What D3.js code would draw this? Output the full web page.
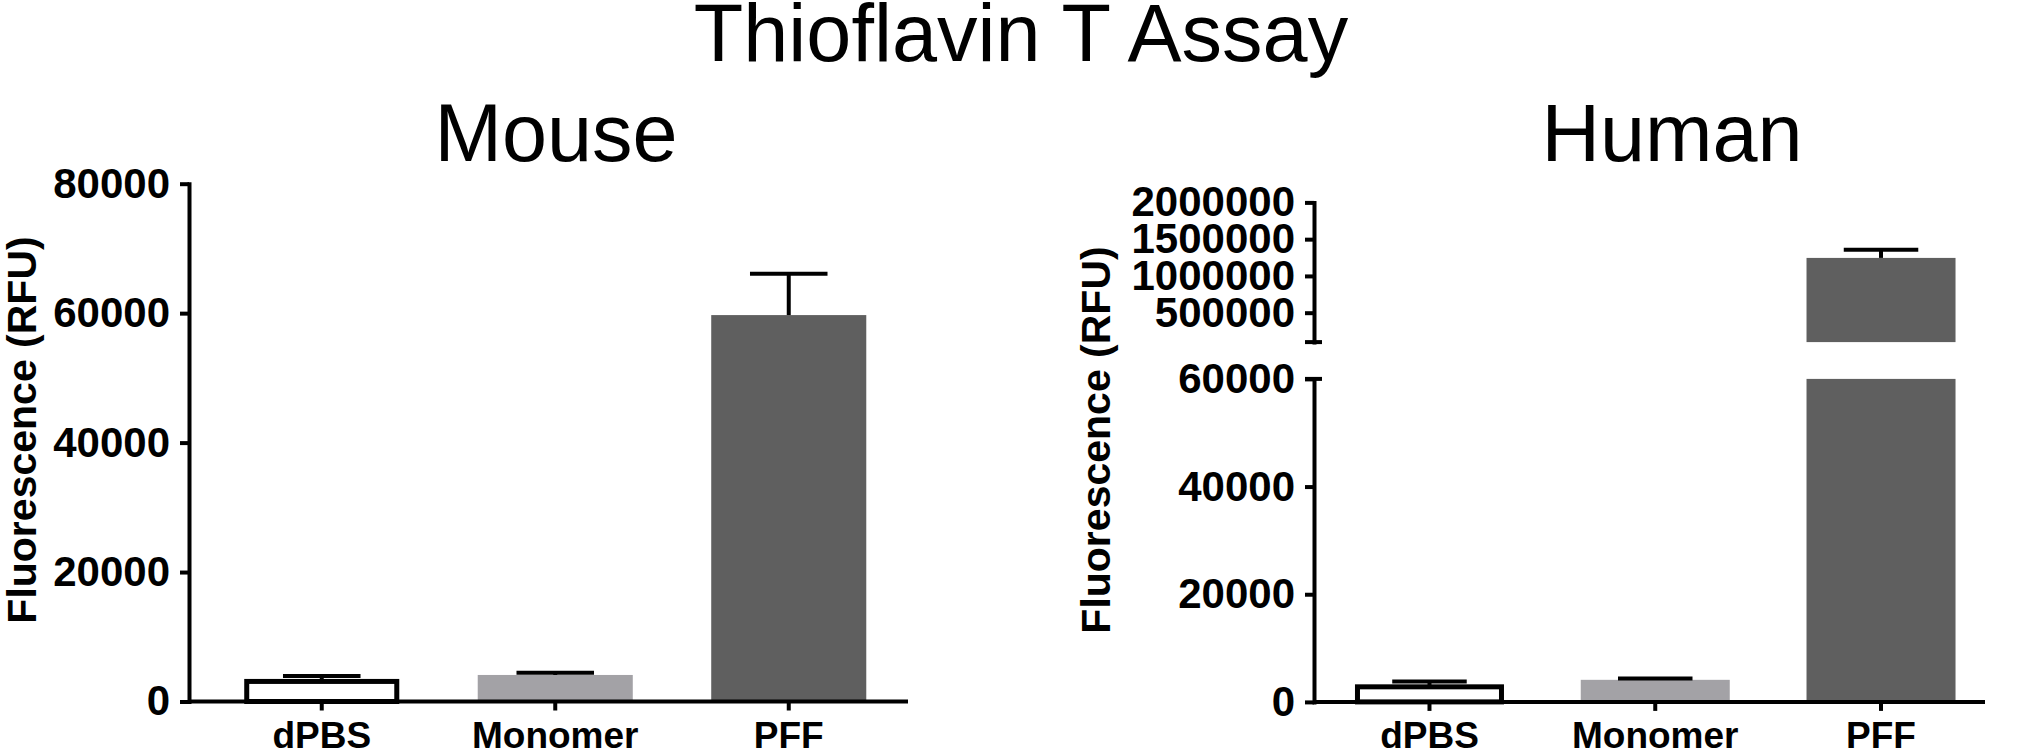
<!DOCTYPE html>
<html>
<head>
<meta charset="utf-8">
<script src="https://cdn.jsdelivr.net/npm/d3@7"></script>
<style>
body { margin:0; background:#fff; }
svg text { font-family: "Liberation Sans", Arial, sans-serif; fill:#000; }
</style>
</head>
<body>
<svg id="chart"></svg>
<script>
// values
var categories = ["dPBS", "Monomer", "PFF"];
var mouseMeans = [3100, 4100, 59700];
var mouseErrors = [850, 350, 6400];
var humanMeans = [2800, 4100, 1245000];
var humanErrors = [1000, 250, 110000];
var mouseTicks = [0, 20000, 40000, 60000, 80000];
var humanLowTicks = [0, 20000, 40000, 60000];
var humanHighTicks = [500000, 1000000, 1500000, 2000000];

var screen = {width: 2034, height: 750};

var fills = d3.scaleOrdinal()
    .domain(categories)
    .range(["#ffffff", "#a3a2a6", "#5f5f5f"]);

var svg = d3.select("#chart")
    .attr("width", screen.width)
    .attr("height", screen.height);

var drawPanel = function(panel)
{
    var data = categories.map(function(c, i)
    {
        return {cat: c, mean: panel.means[i], err: panel.errors[i]};
    });

    var xScale = d3.scaleBand()
        .domain(categories)
        .range(panel.xRange)
        .paddingInner(panel.padding)
        .paddingOuter(panel.padding / 2);

    var target = svg.append("g");
    var y0 = panel.segments[0].range[0];

    panel.segments.forEach(function(seg)
    {
        var yScale = d3.scaleLinear().domain(seg.domain).range(seg.range);
        var lo = seg.domain[0], hi = seg.domain[1];

        var yAxis = d3.axisLeft(yScale)
            .tickValues(seg.ticks)
            .tickFormat(d3.format("d"))
            .tickSize(9)
            .tickSizeOuter(0)
            .tickPadding(10);

        var ax = target.append("g")
            .attr("transform", "translate(" + panel.axisX + ",0)")
            .call(yAxis);
        ax.selectAll("line,path").attr("stroke", "#000").attr("stroke-width", 4);
        ax.select(".domain").attr("stroke-linecap", "square");
        ax.selectAll("text")
            .attr("font-size", 42)
            .attr("font-weight", "bold")
            .attr("font-family", "'Liberation Sans', Arial, sans-serif");

        // short caps where the axis is broken
        if (seg.capTop)
        {
            target.append("line")
                .attr("x1", panel.axisX - 9).attr("x2", panel.axisX + 8)
                .attr("y1", yScale(hi)).attr("y2", yScale(hi))
                .attr("stroke", "#000").attr("stroke-width", 4);
        }
        if (seg.capBottom)
        {
            target.append("line")
                .attr("x1", panel.axisX - 9).attr("x2", panel.axisX + 8)
                .attr("y1", yScale(lo)).attr("y2", yScale(lo))
                .attr("stroke", "#000").attr("stroke-width", 4);
        }

        var shown = data.filter(function(d) { return d.mean > lo; });
        var bars = target.append("g");

        bars.selectAll("rect")
            .data(shown)
            .enter()
            .append("rect")
            .attr("x", function(d)
            {
                return xScale(d.cat) + (d.cat == "dPBS" ? 2.5 : 0);
            })
            .attr("width", function(d)
            {
                return xScale.bandwidth() - (d.cat == "dPBS" ? 5 : 0);
            })
            .attr("y", function(d) { return yScale(Math.min(d.mean, hi)); })
            .attr("height", function(d)
            {
                return yScale(lo) - yScale(Math.min(d.mean, hi));
            })
            .attr("fill", function(d) { return fills(d.cat); })
            .attr("stroke", function(d) { return d.cat == "dPBS" ? "#000" : "none"; })
            .attr("stroke-width", 5);

        var errs = data.filter(function(d)
        {
            return d.mean >= lo && d.mean + d.err <= hi;
        });

        var eg = target.append("g")
            .attr("stroke", "#000")
            .attr("stroke-width", 4);

        eg.selectAll(".stem")
            .data(errs)
            .enter()
            .append("line")
            .attr("x1", function(d) { return xScale(d.cat) + xScale.bandwidth() / 2; })
            .attr("x2", function(d) { return xScale(d.cat) + xScale.bandwidth() / 2; })
            .attr("y1", function(d) { return yScale(d.mean); })
            .attr("y2", function(d) { return yScale(d.mean + d.err); });

        eg.selectAll(".cap")
            .data(errs)
            .enter()
            .append("line")
            .attr("x1", function(d) { return xScale(d.cat) + xScale.bandwidth() / 4; })
            .attr("x2", function(d) { return xScale(d.cat) + xScale.bandwidth() * 3 / 4; })
            .attr("y1", function(d) { return yScale(d.mean + d.err); })
            .attr("y2", function(d) { return yScale(d.mean + d.err); });
    });

    // x axis
    var xAxis = d3.axisBottom(xScale)
        .tickSize(9)
        .tickSizeOuter(0)
        .tickPadding(11);

    var xa = target.append("g")
        .attr("transform", "translate(0," + y0 + ")")
        .call(xAxis);
    xa.select(".domain").remove();
    xa.selectAll("line").attr("stroke", "#000").attr("stroke-width", 4);
    xa.selectAll("text")
        .attr("font-size", 37)
        .attr("font-weight", "bold")
        .attr("font-family", "'Liberation Sans', Arial, sans-serif");

    target.append("line")
        .attr("x1", panel.axisX)
        .attr("x2", panel.axisEnd)
        .attr("y1", y0)
        .attr("y2", y0)
        .attr("stroke", "#000")
        .attr("stroke-width", 4);

    // labels
    target.append("text")
        .text(panel.title)
        .attr("text-anchor", "middle")
        .attr("x", panel.titleX)
        .attr("y", 161)
        .attr("font-size", 81);

    target.append("g")
        .attr("transform", "translate(" + panel.labelX + "," + panel.labelY + ")")
        .append("text")
        .text("Fluorescence (RFU)")
        .attr("text-anchor", "middle")
        .attr("font-size", 41)
        .attr("font-weight", "bold")
        .attr("transform", "rotate(270)");
}

svg.append("text")
    .text("Thioflavin T Assay")
    .attr("text-anchor", "middle")
    .attr("x", 1021)
    .attr("y", 61)
    .attr("font-size", 81);

drawPanel({
    title: "Mouse", titleX: 556,
    labelX: 36, labelY: 430,
    means: mouseMeans, errors: mouseErrors,
    axisX: 189, axisEnd: 908,
    xRange: [205, 905.5], padding: 0.336,
    segments: [
        {domain: [0, 80000], range: [701.5, 183.7], ticks: mouseTicks}
    ]
});

drawPanel({
    title: "Human", titleX: 1672,
    labelX: 1110, labelY: 440,
    means: humanMeans, errors: humanErrors,
    axisX: 1314, axisEnd: 1985,
    xRange: [1316.6, 1993.9], padding: 0.34,
    segments: [
        {domain: [0, 60000], range: [701.9, 378.9], ticks: humanLowTicks, capTop: true},
        {domain: [100000, 2000000], range: [342.1, 202.4], ticks: humanHighTicks, capBottom: true}
    ]
});
</script>
</body>
</html>
